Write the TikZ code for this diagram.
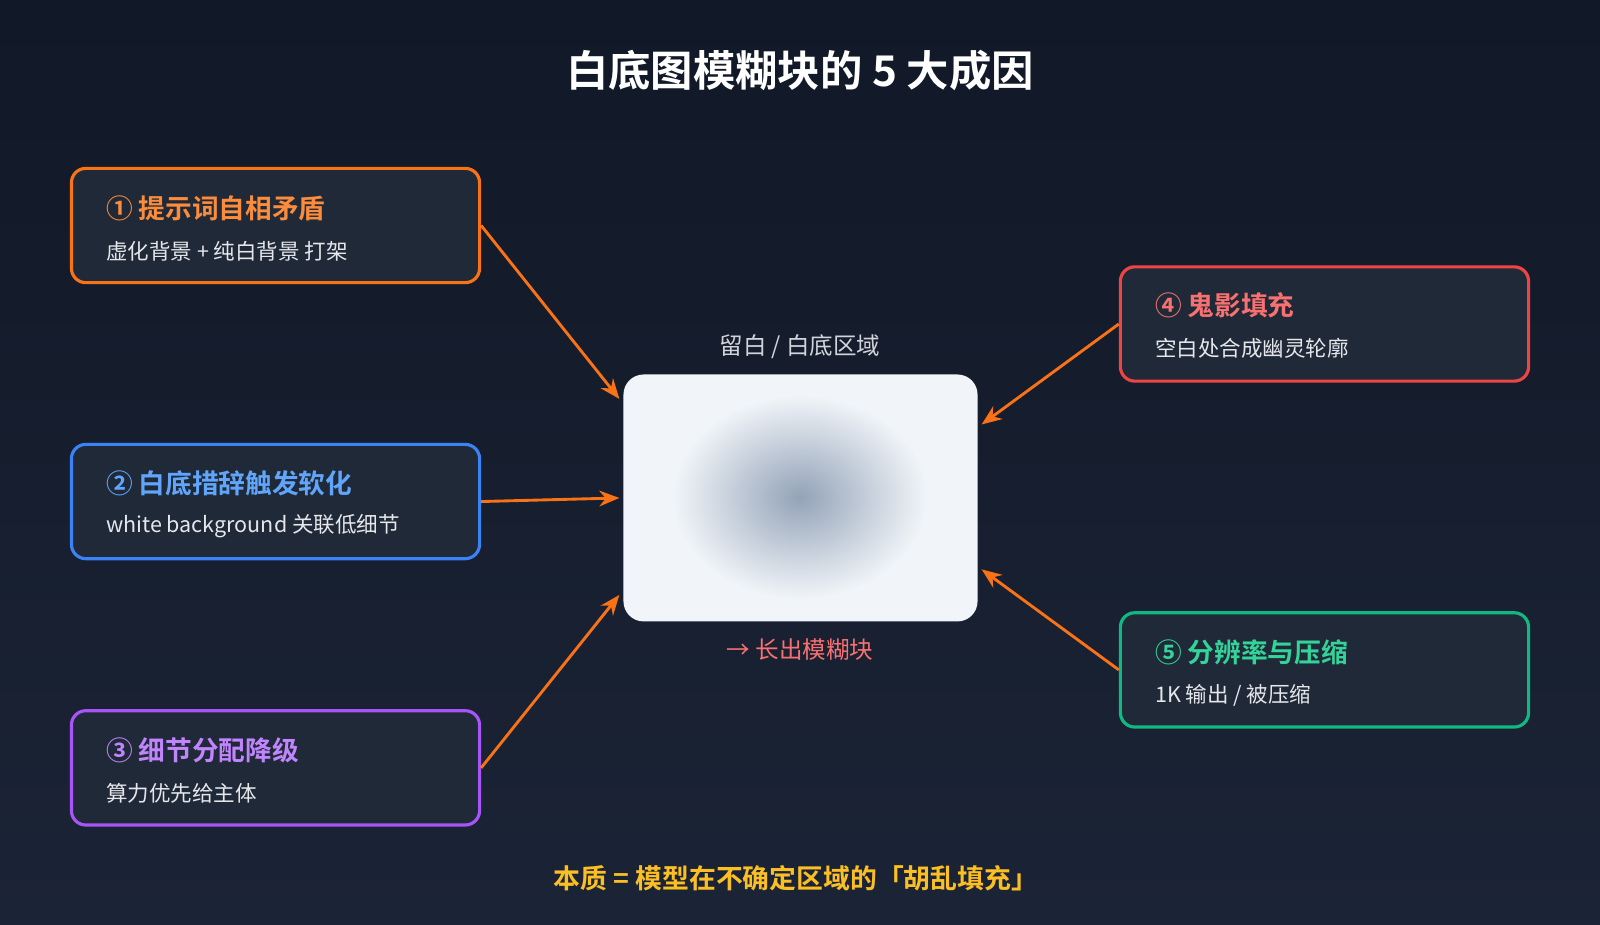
\documentclass[tikz,border=0pt]{standalone}
\usepackage{fontspec}
\setmainfont{Noto Sans CJK SC}
\newfontfamily\cjkb{Noto Sans CJK SC Bold}
\usetikzlibrary{arrows.meta}
\definecolor{bgtop}{HTML}{111827}
\definecolor{bgbot}{HTML}{1B2436}
\definecolor{boxfill}{HTML}{1F2937}
\definecolor{cO}{HTML}{F97316}\definecolor{tO}{HTML}{FB8C3C}
\definecolor{cB}{HTML}{3B82F6}\definecolor{tB}{HTML}{60A5FA}
\definecolor{cP}{HTML}{A855F7}\definecolor{tP}{HTML}{C084FC}
\definecolor{cR}{HTML}{EF4444}\definecolor{tR}{HTML}{F87171}
\definecolor{cG}{HTML}{10B981}\definecolor{tG}{HTML}{34D399}
\definecolor{sub}{HTML}{E5E7EB}
\definecolor{lbl}{HTML}{D1D5DB}
\definecolor{paper}{HTML}{F1F5F9}
\definecolor{blur}{HTML}{94A3B8}
\definecolor{amber}{HTML}{FBBF24}
\tikzset{
 card/.style={draw=#1, line width=2.2pt, fill=boxfill, rounded corners=10pt},
 head/.style={anchor=west, text=#1, font=\cjkb\fontsize{18.6}{22}\selectfont},
 subt/.style={anchor=west, text=sub, font=\fontsize{15}{18}\selectfont},
 arr/.style={draw=cO, line width=2pt, -{Stealth[length=14pt,width=11pt]}},
}
\begin{document}
\begin{tikzpicture}[x=0.025cm,y=-0.025cm]
\useasboundingbox (0,0) rectangle (1568,906);
\shade[top color=bgtop,bottom color=bgbot] (0,0) rectangle (1568,906);
\node[text=white,font=\cjkb\fontsize{29.5}{34}\selectfont] (title) at (784,69) {白底图模糊块的 5 大成因};
% center
\node[draw=none,fill=paper,rounded corners=14pt,minimum width=347*0.025cm,minimum height=242*0.025cm] (c) at (784.5,488) {};
\shade[inner color=blur, outer color=paper] (784,487) ellipse (125 and 100);
\node[text=lbl,font=\fontsize{16.4}{19}\selectfont] (l1) at (784,340) {留白 / 白底区域};
\node[text=tR,font=\fontsize{16.4}{19}\selectfont] (l2) at (784,637) {→ 长出模糊块};
% cards
\node[card=cO,minimum width=400*0.025cm,minimum height=112*0.025cm] (b1) at (270,221) {};
\node[head=tO] at (99,204) {① 提示词自相矛盾};
\node[subt] at (99,246) {虚化背景 + 纯白背景 打架};
\node[card=cB,minimum width=400*0.025cm,minimum height=112*0.025cm] (b2) at (270,491.5) {};
\node[head=tB] at (99,474) {② 白底措辞触发软化};
\node[subt] at (99,516) {white background 关联低细节};
\node[card=cP,minimum width=400*0.025cm,minimum height=112*0.025cm] (b3) at (270,752.5) {};
\node[head=tP] at (99,735) {③ 细节分配降级};
\node[subt] at (99,777) {算力优先给主体};
\node[card=cR,minimum width=400*0.025cm,minimum height=112*0.025cm] (b4) at (1298,317.5) {};
\node[head=tR] at (1127,299) {④ 鬼影填充};
\node[subt] at (1127,341) {空白处合成幽灵轮廓};
\node[card=cG,minimum width=400*0.025cm,minimum height=112*0.025cm] (b5) at (1298,656.5) {};
\node[head=tG] at (1127,639) {⑤ 分辨率与压缩};
\node[subt] at (1127,681) {1K 输出 / 被压缩};
% arrows
\coordinate (e1) at (607,391); \coordinate (e2) at (607,488); \coordinate (e3) at (607,583);
\coordinate (e4) at (962,416); \coordinate (e5) at (962,558);
\draw[arr] (b1.east) -- (e1);
\draw[arr] (b2.east) -- (e2);
\draw[arr] (b3.east) -- (e3);
\draw[arr] (b4.west) -- (e4);
\draw[arr] (b5.west) -- (e5);
\node[text=amber,font=\cjkb\fontsize{18.7}{22}\selectfont] (bt) at (780,861) {本质 = 模型在不确定区域的「胡乱填充」};
\end{tikzpicture}
\end{document}
